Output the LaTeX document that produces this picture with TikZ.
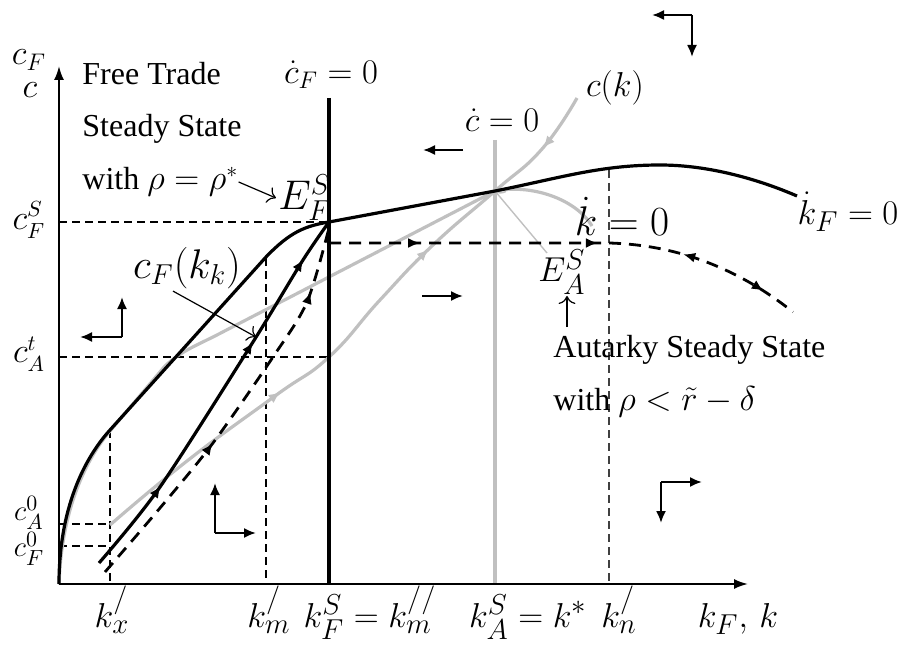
\documentclass[tikz,border=0pt]{standalone}
\usepackage{amsmath}
\usepackage{fontspec}
\setmainfont{Liberation Serif}
\usepackage{tikz}
\usepackage{xcolor}
\usetikzlibrary{arrows.meta, decorations.markings}

\definecolor{pathgray}{RGB}{192,192,192}

\begin{document}
\begin{tikzpicture}[
    x=0.5pt, y=-0.5pt,
    axis/.style={line width=1pt, -{Latex[length=7pt, width=5pt]}},
    fcurve/.style={line width=1.6pt},
    acurve/.style={line width=1.6pt, pathgray},
    guide/.style={line width=0.6pt, dash pattern=on 4pt off 2.5pt},
    dpath/.style={line width=1.4pt, dash pattern=on 6pt off 4pt},
    phase/.style={line width=1pt, -{Latex[length=6pt, width=5pt]}},
    ptr/.style={line width=0.6pt, -{To[length=4pt]}},
    lbl/.style={inner sep=1pt},
    txt/.style={inner sep=0pt, font=\fontsize{16}{18}\selectfont},
    tip/.style={postaction={decorate, decoration={markings, mark=at position #1 with {\arrow{Latex[length=6pt, width=5pt]}}}}},
    rtip/.style={postaction={decorate, decoration={markings, mark=at position #1 with {\arrowreversed{Latex[length=6pt, width=5pt]}}}}}
  ]
    \useasboundingbox (0,0) rectangle (903,646);

    % key points
    \coordinate (O) at (59,584);
    \coordinate (ytop) at (59,66);
    \coordinate (xend) at (748,584);
    \coordinate (EF) at (329,222);
    \coordinate (EA) at (495,191);

    % guide lines
    \draw[guide] (59,222) -- (EF);
    \draw[guide] (59,357) -- (329,357);
    \draw[guide] (59,524) -- (110,524);
    \draw[guide] (59,546) -- (110,546);
    \draw[guide] (110,430) -- (110,584);
    \draw[guide] (266,258) -- (266,584);
    \draw[guide, black!75] (609,170) -- (609,584);

    % autarky
    \draw[acurve] (495,140) -- (495,584);
    \draw[acurve] (O) .. controls (62,500) and (92,452) .. (110,431) -- (165,366)
      .. controls (180,352) and (195,346) .. (215,336) -- (EA)
      .. controls (530,184) and (575,198) .. (592,226);
    \draw[acurve, tip=0.34, tip=0.665, rtip=0.905] plot[smooth, tension=0.8] coordinates
      {(110,525) (187,461) (275,396) (329,357) (380,300) (433,245) (495,191) (542,149) (577,98)};
    \draw[line width=0.7pt, pathgray, -{To[length=4pt]}] (547,253) -- (EA);

    % free trade
    \draw[fcurve] (329,98) -- (329,584);
    \draw[fcurve] (O) .. controls (59,500) and (90,452) .. (110,430) -- (266,257)
      .. controls (290,232) and (305,226) .. (EF) -- (EA)
      .. controls (560,178) and (600,165) .. (660,165)
      .. controls (710,165) and (760,180) .. (797,196);
    \draw[fcurve, tip=0.24, tip=0.655, tip=0.89] plot[smooth] coordinates
      {(99,563) (160,487) (253,342) (303,260) (329,222)};
    \draw[dpath, tip=0.405, tip=0.84] plot[smooth] coordinates
      {(105,572) (160,508) (213,443) (273,357) (307,302) (329,228)};
    \draw[dpath, tip=0.19, tip=0.56, rtip=0.74, tip=0.925] (329,243) -- (609,243)
      .. controls (680,245) and (740,270) .. (793,312);

    % axes
    \draw[axis] (O) -- (ytop);
    \draw[axis] (O) -- (xend);

    % phase arrows
    \draw[phase] (692,15) -- (652,15);
    \draw[phase] (692,15) -- (692,57);
    \draw[phase] (122,337) -- (80,337);
    \draw[phase] (122,337) -- (122,297);
    \draw[phase] (215,533) -- (256,533);
    \draw[phase] (215,533) -- (215,483);
    \draw[phase] (661,482) -- (702,482);
    \draw[phase] (661,482) -- (661,523);
    \draw[phase] (463,150) -- (423,150);
    \draw[phase] (422,296) -- (463,296);

    % vertical axis labels
    \node[lbl, font=\fontsize{17}{20}\selectfont] (lcF) at (29,60) {$c_F$};
    \node[lbl, font=\fontsize{17}{20}\selectfont] (lc) at (30,90) {$c$};
    \node[lbl, font=\fontsize{16}{18}\selectfont] (lcFS) at (29,220) {$c_F^S$};
    \node[lbl, font=\fontsize{16}{18}\selectfont] (lcAt) at (29,354) {$c_A^t$};
    \node[lbl, font=\fontsize{15}{17}\selectfont] (lcA0) at (29,513) {$c_A^0$};
    \node[lbl, font=\fontsize{15}{17}\selectfont] (lcF0) at (29,549) {$c_F^0$};

    % horizontal axis labels
    \node[lbl, anchor=base, font=\fontsize{19}{22}\selectfont] (lkx) at (112,627) {$k_x^{/}$};
    \node[lbl, anchor=base, font=\fontsize{19}{22}\selectfont] (lkm) at (269,627) {$k_m^{/}$};
    \node[lbl, anchor=base, font=\fontsize{19}{22}\selectfont] (lkF) at (370,627) {$k_F^S = k_m^{//}$};
    \node[lbl, anchor=base, font=\fontsize{19}{22}\selectfont] (lkA) at (528,627) {$k_A^S = k^*$};
    \node[lbl, anchor=base, font=\fontsize{19}{22}\selectfont] (lkn) at (619,627) {$k_n^{/}$};
    \node[lbl, anchor=base, font=\fontsize{19}{22}\selectfont] (lkk) at (738,627) {$k_F,\, k$};

    % curve labels
    \node[lbl, font=\fontsize{18}{20}\selectfont] (lcdotF) at (331,75) {$\dot c_F = 0$};
    \node[lbl, font=\fontsize{16}{18}\selectfont] (lcdot) at (502,120) {$\dot c = 0$};
    \node[lbl, font=\fontsize{16}{18}\selectfont] (lck) at (615,88) {$c(k)$};
    \node[lbl, font=\fontsize{20}{23}\selectfont] (lkdot) at (622,216) {$\dot k = 0$};
    \node[lbl, font=\fontsize{19}{22}\selectfont] (lkdotF) at (848,212) {$\dot k_F = 0$};
    \node[lbl, font=\fontsize{20}{22}\selectfont] (lEF) at (305,198) {$E_F^S$};
    \node[lbl, font=\fontsize{19}{22}\selectfont] (lEA) at (562,272) {$E_A^S$};
    \node[lbl, font=\fontsize{20}{22}\selectfont] (lcFk) at (187,268) {$c_F(k_k)$};
    \coordinate (cFpt) at (256,337);
    \draw[ptr] ([xshift=-7pt]lcFk.south) -- (cFpt);

    % steady state texts
    \node[txt, anchor=base west] (ft1) at (82,85) {Free Trade};
    \node[txt, anchor=base west] (ft2) at (82,137) {Steady State};
    \node[txt, anchor=base west] (ft3) at (82,190) {with $\rho = \rho^*$};
    \draw[ptr] (ft3.east) -- (lEF.west);
    \node[txt, anchor=base west] (at1) at (553,357) {Autarky Steady State};
    \node[txt, anchor=base west] (at2) at (553,410) {with $\rho < \tilde r - \delta$};
    \coordinate (upfoot) at (567,327);
    \coordinate (uphead) at (567,296);
    \draw[ptr] (upfoot) -- (uphead);
  \end{tikzpicture}
\end{document}
